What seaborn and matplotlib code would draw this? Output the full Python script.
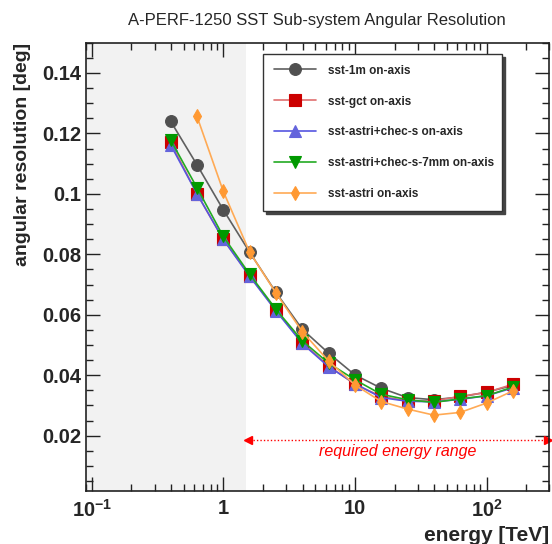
import matplotlib
matplotlib.use("Agg")
import matplotlib.pyplot as plt
from matplotlib.ticker import FixedLocator, FixedFormatter, MultipleLocator, LogLocator, NullFormatter
import seaborn as sns
import pandas as pd

# ---------------- data ----------------
energy = [0.398, 0.631, 1.0, 1.585, 2.512, 3.98, 6.31, 10.0, 15.85, 25.12, 39.8, 63.1, 100.0, 158.5]
sst_1m = [0.1240, 0.1096, 0.0947, 0.0807, 0.0674, 0.0552, 0.0473, 0.0401, 0.0357, 0.0326, 0.0319, 0.0328, 0.0344, 0.0366]
sst_gct = [0.1170, 0.1000, 0.0849, 0.0729, 0.0615, 0.0508, 0.0431, 0.0370, 0.0330, 0.0315, 0.0315, 0.0330, 0.0343, 0.0370]
sst_astri_chec = [0.1162, 0.1000, 0.0849, 0.0727, 0.0613, 0.0505, 0.0428, 0.0372, 0.0326, 0.0314, 0.0312, 0.0320, 0.0332, 0.0358]
sst_astri_chec_7mm = [0.1178, 0.1020, 0.0859, 0.0734, 0.0618, 0.0514, 0.0440, 0.0385, 0.0337, 0.0319, 0.0310, 0.0322, 0.0332, 0.0361]
energy_astri = [0.631, 1.0, 1.585, 2.512, 3.98, 6.31, 10.0, 15.85, 25.12, 39.8, 63.1, 100.0, 158.5]
sst_astri = [0.1256, 0.1008, 0.0807, 0.0672, 0.0544, 0.0447, 0.0368, 0.0313, 0.0288, 0.0268, 0.0277, 0.0308, 0.0348]

labels = ["sst-1m on-axis", "sst-gct on-axis", "sst-astri+chec-s on-axis",
          "sst-astri+chec-s-7mm on-axis", "sst-astri on-axis"]

x_ticks = [0.1, 1, 10, 100]
x_tick_labels = [r"$\mathbf{10^{-1}}$", "1", "10", r"$\mathbf{10^{2}}$"]
y_ticks = [0.02, 0.04, 0.06, 0.08, 0.10, 0.12, 0.14]
y_tick_labels = ["0.02", "0.04", "0.06", "0.08", "0.1", "0.12", "0.14"]

title = "A-PERF-1250 SST Sub-system Angular Resolution"
xlabel = "energy [TeV]"
ylabel = "angular resolution [deg]"
range_text = "required energy range"
range_low, range_high, range_y = 1.5, 300, 0.0185

# ---------------- style ----------------
sns.set_style("ticks")
plt.rcParams["font.family"] = ["Liberation Sans", "DejaVu Sans"]
plt.rcParams["mathtext.fontset"] = "custom"
plt.rcParams["mathtext.rm"] = "Liberation Sans"
plt.rcParams["mathtext.bf"] = "Liberation Sans:bold"

fig = plt.figure(figsize=(5.52, 5.44), dpi=100)
ax = fig.add_axes([85.7 / 552, 1 - 490.7 / 544, (549.3 - 85.7) / 552, (490.7 - 42.7) / 544])

series = [
    (energy, sst_1m, dict(color="#5f5f5f", marker="o", mfc="#505050", mec="#505050", ms=8.5)),
    (energy, sst_gct, dict(color="#e07070", marker="s", mfc="#cc0000", mec="#cc0000", ms=8)),
    (energy, sst_astri_chec, dict(color="#5555e0", marker="^", mfc="#6464dc", mec="#6464dc", ms=8.5)),
    (energy, sst_astri_chec_7mm, dict(color="#22aa22", marker="v", mfc="#009900", mec="#009900", ms=8.5)),
    (energy_astri, sst_astri, dict(color="#ffaa55", marker="d", mfc="#ff9933", mec="#ff9933", ms=7)),
]

for (xs, ys, st), lab in zip(series, labels):
    df = pd.DataFrame({"energy": xs, "res": ys})
    sns.lineplot(data=df, x="energy", y="res", ax=ax, color=st["color"], lw=1.2,
                 marker=st["marker"], markerfacecolor=st["mfc"], markeredgecolor=st["mec"],
                 markersize=st["ms"], markeredgewidth=0.8, label=lab, zorder=3)

ax.set_xscale("log")
ax.set_xlim(0.09, 300)
ax.set_ylim(0.0018, 0.15)

ax.axvspan(0.01, range_low, color="#f2f2f2", zorder=0, lw=0)

# required energy range arrow
ax.plot([range_low, range_high], [range_y, range_y], ls=(0, (1, 1.5)), color="red", lw=1.0, zorder=2)
ax.plot([range_low * 1.03], [range_y], marker="<", color="red", ms=6, zorder=2, clip_on=False)
ax.plot([range_high * 0.985], [range_y], marker=">", color="red", ms=6, zorder=2, clip_on=False)
ax.text(10 ** ((0.176 + 2.47) / 2), 0.0148, range_text, color="red", style="italic",
        fontsize=11.5, ha="center", va="center")

# ticks
ax.xaxis.set_major_locator(FixedLocator(x_ticks))
ax.xaxis.set_major_formatter(FixedFormatter(x_tick_labels))
ax.xaxis.set_minor_locator(LogLocator(base=10, subs=range(2, 10), numticks=20))
ax.xaxis.set_minor_formatter(NullFormatter())
ax.yaxis.set_major_locator(FixedLocator(y_ticks))
ax.yaxis.set_major_formatter(FixedFormatter(y_tick_labels))
ax.yaxis.set_minor_locator(MultipleLocator(0.005))

ax.tick_params(which="both", direction="in", top=True, right=True, width=1.0, color="#222222")
ax.tick_params(which="major", length=10, labelsize=14.5)
ax.tick_params(axis="x", which="major", pad=6)
ax.tick_params(axis="y", which="major", pad=3)
ax.tick_params(which="minor", length=5)
for lbl in ax.get_xticklabels() + ax.get_yticklabels():
    lbl.set_fontweight("bold")

for sp in ax.spines.values():
    sp.set_linewidth(1.2)
    sp.set_color("#222222")

ax.set_xlabel(xlabel, loc="right", fontsize=15, fontweight="bold", labelpad=4)
ax.set_ylabel(ylabel, loc="top", fontsize=14, fontweight="bold", labelpad=8)
fig.text(317 / 552, 1 - 20 / 544, title, ha="center", va="center", fontsize=12)

leg = ax.legend(loc="upper left",
                bbox_to_anchor=(263 / 552, 1 - 211 / 544, 239 / 552, 157 / 544),
                bbox_transform=fig.transFigure, mode="expand", borderaxespad=0,
                prop={"weight": "bold", "size": 8.5}, handlelength=3.6, handletextpad=1.0,
                labelspacing=1.6, borderpad=0.9, frameon=True, fancybox=False,
                shadow={"facecolor": "#444444", "edgecolor": "#444444", "alpha": 1.0})
leg.get_frame().set_edgecolor("#333333")
leg.get_frame().set_linewidth(1.0)
leg.get_frame().set_alpha(1.0)

fig.savefig("out.png", dpi=100)
